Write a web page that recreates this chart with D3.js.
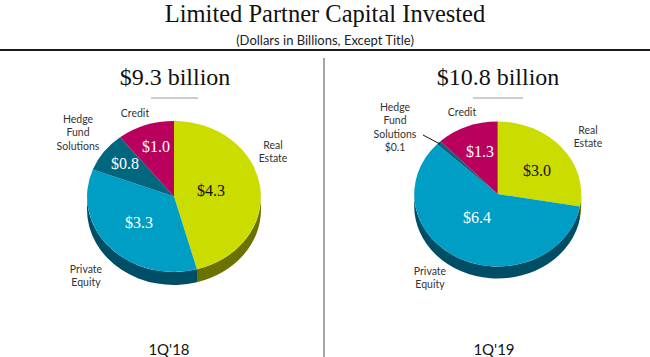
<!DOCTYPE html>
<html>
<head>
<meta charset="utf-8">
<script src="https://cdn.jsdelivr.net/npm/d3@7"></script>
<style>
  html, body { margin: 0; padding: 0; background: #fff; }
  svg { display: block; }
</style>
</head>
<body>
<div id="chart"></div>
<script>
const categories = ["Real Estate", "Private Equity", "Hedge Fund Solutions", "Credit"];
const values18 = [4.3, 3.3, 0.8, 1.0];
const values19 = [3.0, 6.4, 0.1, 1.3];
const totals = ["$9.3 billion", "$10.8 billion"];
const quarters = ["1Q'18", "1Q'19"];
const valueLabels18 = ["$4.3", "$3.3", "$0.8", "$1.0"];
const valueLabels19 = ["$3.0", "$6.4", "", "$1.3"];

const width = 650, height = 357;
const serif = "'Liberation Serif', serif", sans = "Lato, sans-serif";

const colors = d3.scaleOrdinal().domain(categories).range(["#cbdc00", "#009dc4", "#00677f", "#b9005c"]);
const sideColors = d3.scaleOrdinal().domain(categories).range(["#6b7200", "#004e66", "#003f52", "#5e002f"]);

// layout of each panel
const panels = [
    {
        values: values18, valueLabels: valueLabels18, total: totals[0], quarter: quarters[0],
        cx: 174, cy: 196.5, rx: 87, ry: 75.5, depth: 13,
        totalX: 175, ruleX: [151, 198], quarterX: 169,
        valuePos: [[211, 190], [139, 222], [125, 163], [156, 146]],
        catLabels: [
            {x: 273, y: 149, lines: ["Real", "Estate"]},
            {x: 86, y: 273, lines: ["Private", "Equity"]},
            {x: 78, y: 123, lines: ["Hedge", "Fund", "Solutions"]},
            {x: 135, y: 117, lines: ["Credit"]}
        ]
    },
    {
        values: values19, valueLabels: valueLabels19, total: totals[1], quarter: quarters[1],
        cx: 497.7, cy: 194, rx: 83.5, ry: 72.5, depth: 12,
        totalX: 498, ruleX: [473, 523], quarterX: 494,
        valuePos: [[537, 170], [477, 217], null, [480, 151]],
        catLabels: [
            {x: 588, y: 134, lines: ["Real", "Estate"]},
            {x: 430, y: 275, lines: ["Private", "Equity"]},
            {x: 395, y: 111, lines: ["Hedge", "Fund", "Solutions", "$0.1"]},
            {x: 462, y: 116, lines: ["Credit"]}
        ],
        leader: [[423, 135], [440, 144]]
    }
];

const svg = d3.select("#chart").append("svg")
    .attr("width", width)
    .attr("height", height);

svg.append("text")
    .attr("x", 325).attr("y", 22)
    .attr("text-anchor", "middle")
    .attr("font-family", serif)
    .attr("font-size", 24.5)
    .attr("fill", "#111")
    .text("Limited Partner Capital Invested");

svg.append("text")
    .attr("x", 325).attr("y", 45)
    .attr("text-anchor", "middle")
    .attr("font-family", sans)
    .attr("font-size", 13)
    .attr("fill", "#222")
    .text("(Dollars in Billions, Except Title)");

svg.append("line")
    .attr("x1", 0).attr("x2", width)
    .attr("y1", 50).attr("y2", 50)
    .attr("stroke", "#1a1a1a")
    .attr("stroke-width", 2);

svg.append("line")
    .attr("x1", 324).attr("x2", 324)
    .attr("y1", 58).attr("y2", height)
    .attr("stroke", "#a6a6a6")
    .attr("stroke-width", 2);

const pie = d3.pie().sort(null).value(d => d.value);
const arc = d3.arc().innerRadius(0).outerRadius(1);

panels.forEach(p => {
    const g = svg.append("g");

    g.append("text")
        .attr("x", p.totalX).attr("y", 85)
        .attr("text-anchor", "middle")
        .attr("font-family", serif)
        .attr("font-size", 24)
        .attr("fill", "#111")
        .text(p.total);

    g.append("line")
        .attr("x1", p.ruleX[0]).attr("x2", p.ruleX[1])
        .attr("y1", 98).attr("y2", 98)
        .attr("stroke", "#9a9a9a")
        .attr("stroke-width", 1);

    const slices = pie(categories.map((c, i) => ({category: c, value: p.values[i]})));

    // pie side, only the front half of the ellipse shows
    const px = a => p.cx + p.rx * Math.sin(a);
    const py = a => p.cy - p.ry * Math.cos(a);
    g.append("g").selectAll("path")
        .data(slices.filter(d => d.endAngle > Math.PI / 2 && d.startAngle < 1.5 * Math.PI))
        .enter().append("path")
        .attr("fill", d => sideColors(d.data.category))
        .attr("d", d => {
            const a0 = Math.max(d.startAngle, Math.PI / 2);
            const a1 = Math.min(d.endAngle, 1.5 * Math.PI);
            return `M${px(a0)},${py(a0)}A${p.rx},${p.ry} 0 0 1 ${px(a1)},${py(a1)}` +
                `L${px(a1)},${py(a1) + p.depth}A${p.rx},${p.ry} 0 0 0 ${px(a0)},${py(a0) + p.depth}Z`;
        });

    // pie top
    g.append("g")
        .attr("transform", `translate(${p.cx},${p.cy}) scale(${p.rx},${p.ry})`)
        .selectAll("path")
        .data(slices)
        .enter().append("path")
        .attr("fill", d => colors(d.data.category))
        .attr("d", arc);

    // value labels
    slices.forEach((d, i) => {
        if (!p.valuePos[i]) return;
        g.append("text")
            .attr("x", p.valuePos[i][0]).attr("y", p.valuePos[i][1] + 6)
            .attr("text-anchor", "middle")
            .attr("font-family", serif)
            .attr("font-size", 16)
            .attr("fill", i === 0 ? "#111" : "#fff")
            .text(p.valueLabels[i]);
    });

    // category labels
    p.catLabels.forEach(l => {
        const t = g.append("text")
            .attr("text-anchor", "middle")
            .attr("font-family", sans)
            .attr("font-size", 10.5)
            .attr("fill", "#333");
        l.lines.forEach((s, i) => {
            t.append("tspan")
                .attr("x", l.x)
                .attr("y", l.y + i * 13.4)
                .text(s);
        });
    });

    if (p.leader) {
        g.append("line")
            .attr("x1", p.leader[0][0]).attr("y1", p.leader[0][1])
            .attr("x2", p.leader[1][0]).attr("y2", p.leader[1][1])
            .attr("stroke", "#111")
            .attr("stroke-width", 1);
    }

    g.append("text")
        .attr("x", p.quarterX).attr("y", 355)
        .attr("text-anchor", "middle")
        .attr("font-family", sans)
        .attr("font-size", 15)
        .attr("fill", "#111")
        .text(p.quarter);
});
</script>
</body>
</html>
